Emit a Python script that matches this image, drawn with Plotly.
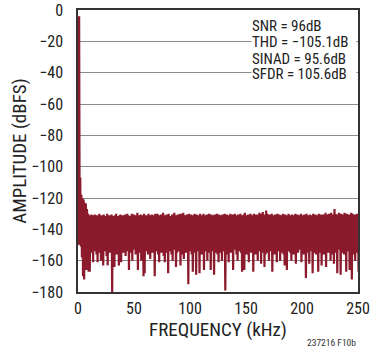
import plotly.graph_objects as go

# FFT bins, 1 kHz apart, 0..250 kHz
FREQ_KHZ = list(range(251))

# upper edge of each bin (dBFS)
PEAK_DB = [
    -125, -4, -107, -118, -120, -121, -123, -123.5, -127, -130,
    -131, -131.5, -130.5, -132, -131, -130.5, -132, -131, -131.5, -130,
    -131, -132.5, -131, -130.5, -131.5, -132, -130, -131, -132, -131,
    -130.5, -131.5, -132, -131, -130, -131.5, -132.5, -131, -130.5, -131,
    -132, -131, -130.5, -131.5, -130, -131, -132, -131.5, -130, -131,
    -130.5, -132, -131, -129.5, -131, -132, -130.5, -131, -131.5, -130,
    -131, -132.5, -131, -130, -131.5, -131, -130.5, -132, -131, -130,
    -131.5, -130, -131, -132, -130.5, -131, -129.5, -131, -132, -130.5,
    -131, -130, -131.5, -132, -130.5, -131, -129.5, -131, -132, -130.5,
    -131, -130, -131.5, -130, -129.5, -131, -132, -130.5, -131, -130,
    -131.5, -130.5, -131, -132, -130, -131, -130.5, -132, -131, -130,
    -131, -131.5, -130, -131, -132, -130.5, -131, -130, -131.5, -130.5,
    -131, -132, -130.5, -131, -130, -131.5, -130.5, -131, -132, -130.5,
    -131, -130, -131.5, -130.5, -131, -132, -130, -131, -130.5, -131.5,
    -130, -131, -132, -130.5, -131, -130, -131.5, -131, -130.5, -129.5,
    -131, -132, -130.5, -131, -130, -131.5, -131, -130, -132, -130.5,
    -131, -130.5, -129.5, -131, -130, -129, -131, -130.5, -128, -130,
    -131, -130.5, -131.5, -130, -131, -132, -130.5, -131, -130, -131.5,
    -130.5, -131, -132, -130, -131, -130.5, -131.5, -131, -130, -131,
    -131.5, -130.5, -131, -132, -130, -131, -130.5, -131.5, -131, -130,
    -131, -132, -130.5, -131, -130, -131.5, -131, -130.5, -132, -131,
    -130, -131, -130.5, -131.5, -131, -130, -132, -130.5, -131, -130.5,
    -131, -129.5, -131, -130.5, -130, -131, -129.5, -130.5, -131, -127,
    -130, -131, -130.5, -129.5, -131, -130, -130.5, -131, -129.5, -131,
    -130, -131.5, -130.5, -131, -129.5, -130, -131, -130.5, -131.5, -130,
    -131,
]

# lower edge of each bin (dBFS)
VALLEY_DB = [
    -150, -148, -151, -158, -170, -172, -154, -166, -153, -167,
    -167, -155, -152, -161, -154, -151, -156, -161, -153, -155,
    -160, -152, -163, -154, -151, -157, -163, -153, -155, -152,
    -181, -154, -164, -152, -156, -153, -163, -155, -161, -152,
    -155, -153, -157, -151, -154, -166, -152, -155, -160, -153,
    -151, -156, -154, -166, -152, -155, -160, -153, -170, -168,
    -154, -152, -156, -153, -159, -151, -155, -153, -170, -154,
    -152, -156, -161, -153, -155, -152, -157, -161, -153, -155,
    -168, -152, -154, -156, -160, -153, -151, -164, -155, -152,
    -154, -163, -153, -156, -159, -152, -155, -153, -175, -154,
    -152, -156, -167, -153, -155, -169, -152, -154, -168, -153,
    -156, -152, -166, -154, -153, -160, -155, -152, -166, -154,
    -153, -169, -155, -152, -156, -161, -153, -155, -160, -152,
    -154, -179, -153, -156, -161, -152, -155, -154, -166, -153,
    -152, -156, -160, -154, -153, -155, -167, -152, -166, -154,
    -156, -153, -161, -152, -155, -154, -167, -153, -156, -152,
    -160, -154, -153, -162, -155, -152, -164, -156, -153, -155,
    -160, -152, -154, -167, -153, -156, -152, -161, -154, -153,
    -160, -155, -152, -156, -163, -153, -166, -154, -152, -155,
    -160, -153, -156, -152, -162, -154, -155, -153, -152, -161,
    -154, -156, -153, -171, -152, -155, -162, -154, -153, -168,
    -155, -152, -156, -154, -167, -153, -155, -163, -152, -156,
    -154, -164, -153, -155, -152, -160, -156, -153, -162, -154,
    -155, -168, -153, -152, -169, -155, -154, -156, -153, -167,
    -154, -152, -166, -155, -172, -153, -156, -160, -152, -155,
    -167,
]

STATS = ["SNR = 96dB", "THD = \u2212105.1dB", "SINAD = 95.6dB", "SFDR = 105.6dB"]
Y_TICKS = list(range(0, -181, -20))
X_TICKS = [0, 50, 100, 150, 200, 250]

FONT = "Liberation Sans Narrow, Arial Narrow, Roboto Condensed, sans-serif"
TRACE_COLOR = "#8b1a2c"

# interleave the top and bottom of each bin so the noise reads as a solid band
xs, ys = [], []
for f, hi, lo in zip(FREQ_KHZ, PEAK_DB, VALLEY_DB):
    xs += [f, f + 0.5]
    ys += [hi, lo]

fig = go.Figure()
fig.add_trace(
    go.Scatter(
        x=xs,
        y=ys,
        mode="lines",
        line=dict(color=TRACE_COLOR, width=2.2),
        showlegend=False,
        hoverinfo="skip",
    )
)

# one white-backed box per line, all the same width, so the grid breaks evenly
stat_rows = [0.945, 0.887, 0.828, 0.772]
for label, ypos in zip(STATS, stat_rows):
    fig.add_annotation(
        x=1,
        y=ypos,
        xref="paper",
        yref="paper",
        xanchor="right",
        yanchor="middle",
        xshift=-1,
        width=104,
        height=16,
        valign="middle",
        text=label,
        align="left",
        showarrow=False,
        bgcolor="white",
        borderpad=0,
        font=dict(family=FONT, size=15, color="#222222"),
    )

fig.add_annotation(
    x=1,
    y=0,
    xref="paper",
    yref="paper",
    xanchor="right",
    yanchor="middle",
    yshift=-50,
    text="237216 F10b",
    showarrow=False,
    font=dict(family=FONT, size=9.5, color="#333333"),
)

fig.update_layout(
    width=370,
    height=348,
    margin=dict(l=78, r=12, t=10, b=56),
    paper_bgcolor="white",
    plot_bgcolor="white",
    font=dict(family=FONT, size=16, color="#222222"),
)
fig.update_xaxes(
    range=[0, 250],
    tickvals=X_TICKS,
    showgrid=False,
    zeroline=False,
    showline=True,
    mirror=True,
    linecolor="#333333",
    linewidth=1.5,
    ticks="",
    ticklabelstandoff=1,
    automargin=False,
    title=dict(text="FREQUENCY (kHz)", standoff=0),
)
fig.update_yaxes(
    range=[-180, 0],
    tickvals=Y_TICKS,
    showgrid=True,
    gridcolor="#8c8c8c",
    gridwidth=1.2,
    zeroline=False,
    showline=True,
    mirror=True,
    linecolor="#333333",
    linewidth=1.5,
    ticks="",
    ticklabelstandoff=10,
    automargin=False,
    title=dict(text="AMPLITUDE (dBFS)", standoff=0),
)

# the page body has an 8px default margin; drop it so the figure sits at 0,0
fig.write_html(
    "out.html",
    config={"displayModeBar": False},
    post_script="document.body.style.margin='0px';",
)
